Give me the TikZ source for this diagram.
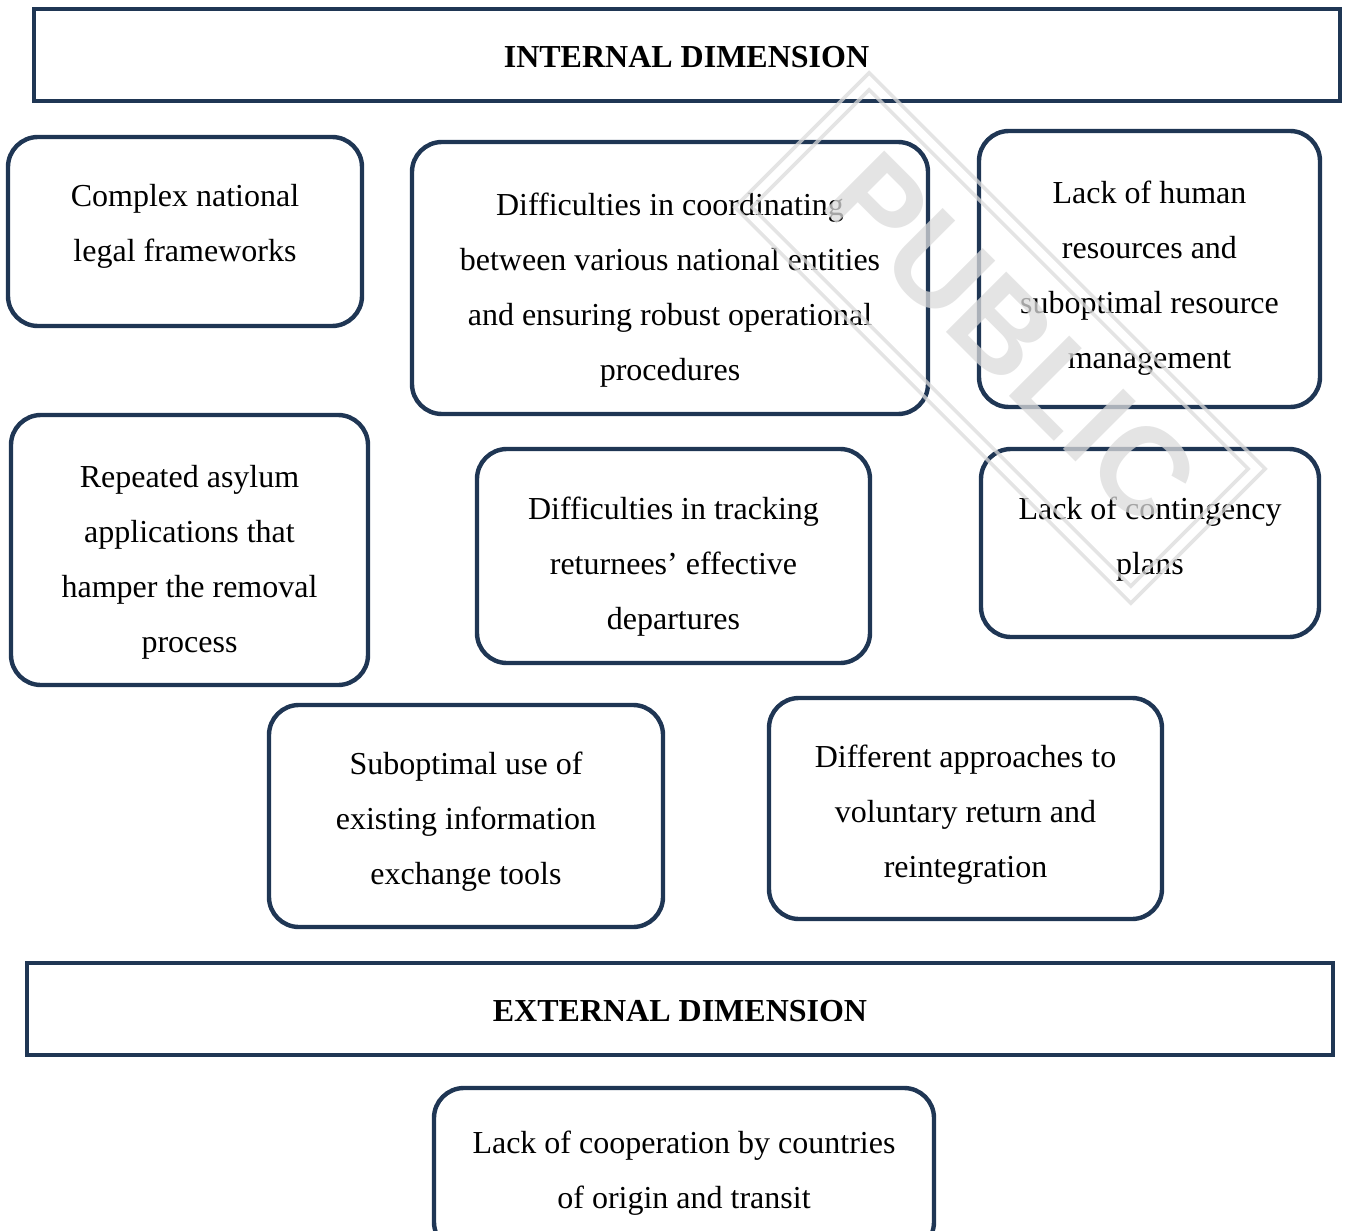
\documentclass[tikz,border=0pt]{standalone}
\usepackage{fontspec}
\setmainfont{Liberation Serif}
\setsansfont{Liberation Sans}
\usepackage{xcolor}
\usetikzlibrary{positioning}
\definecolor{navy}{RGB}{31,54,84}

\begin{document}
\begin{tikzpicture}[x=0.5pt, y=-0.5pt,
  dimbox/.style={draw=navy, line width=2pt, minimum width=653pt, minimum height=46pt},
  item/.style={draw=navy, line width=2.2pt, rounded corners=15pt, inner sep=0pt},
  txt/.style={align=center, inner sep=0pt, font=\fontsize{16}{27.5}\selectfont},
  head/.style={inner sep=0pt, font=\fontsize{16}{27.5}\selectfont\bfseries},
  stamp/.style={draw=black!14, line width=1.8pt, draw opacity=0.75, rotate=-45}
]
\clip (0,0) rectangle (1346,1231);
\useasboundingbox (0,0) rectangle (1346,1231);
% dimension headers
\node[dimbox] (internal) at (686.5,55) {};
\node[head] (internal-t) at (686.5,57) {INTERNAL DIMENSION};
\node[dimbox] (external) at (680,1009) {};
\node[head] (external-t) at (680,1011) {EXTERNAL DIMENSION};
% internal challenges
\node[item, minimum width=177pt, minimum height=94.5pt] (legal) at (185,231.5) {};
\node[txt] (legal-t) at (185,226.5) {Complex national\\legal frameworks};
\node[item, minimum width=258pt, minimum height=136pt] (coord) at (670,278) {};
\node[txt] (coord-t) at (670,290)
  {Difficulties in coordinating\\between various national entities\\and ensuring robust operational\\procedures};
\node[item, minimum width=170.5pt, minimum height=138pt] (human) at (1149.5,269) {};
\node[txt] (human-t) at (1149.5,278)
  {Lack of human\\resources and\\suboptimal resource\\management};
\node[item, minimum width=178.5pt, minimum height=135pt] (asylum) at (189.5,550) {};
\node[txt] (asylum-t) at (189.5,562)
  {Repeated asylum\\applications that\\hamper the removal\\process};
\node[item, minimum width=196.5pt, minimum height=107pt] (tracking) at (673.5,556) {};
\node[txt] (tracking-t) at (673.5,567)
  {Difficulties in tracking\\returnees’ effective\\departures};
\node[item, minimum width=169pt, minimum height=94pt] (contingency) at (1150,543) {};
\node[txt] (contingency-t) at (1150,539.5) {Lack of contingency\\plans};
\node[item, minimum width=197pt, minimum height=111pt] (infotools) at (466,816) {};
\node[txt] (infotools-t) at (466,822)
  {Suboptimal use of\\existing information\\exchange tools};
\node[item, minimum width=196.5pt, minimum height=110.5pt] (voluntary) at (965.5,808.5) {};
\node[txt] (voluntary-t) at (965.5,814.5)
  {Different approaches to\\voluntary return and\\reintegration};
% external challenge
\node[item, minimum width=250pt, minimum height=82pt] (thirdcountries) at (684,1170) {};
\node[txt] (thirdcountries-t) at (684,1173)
  {Lack of cooperation by countries\\of origin and transit};
% watermark
\node[stamp, minimum width=280pt, minimum height=95pt] (wframeout) at (1000,338) {};
\node[stamp, minimum width=268pt, minimum height=83pt] (wframein) at (1000,338) {};
\node[rotate=-45, text=black!14, text opacity=0.75, font=\sffamily\bfseries\fontsize{62}{62}\selectfont]
  (wmark) at (1012,338) {PUBLIC};
\end{tikzpicture}
\end{document}
